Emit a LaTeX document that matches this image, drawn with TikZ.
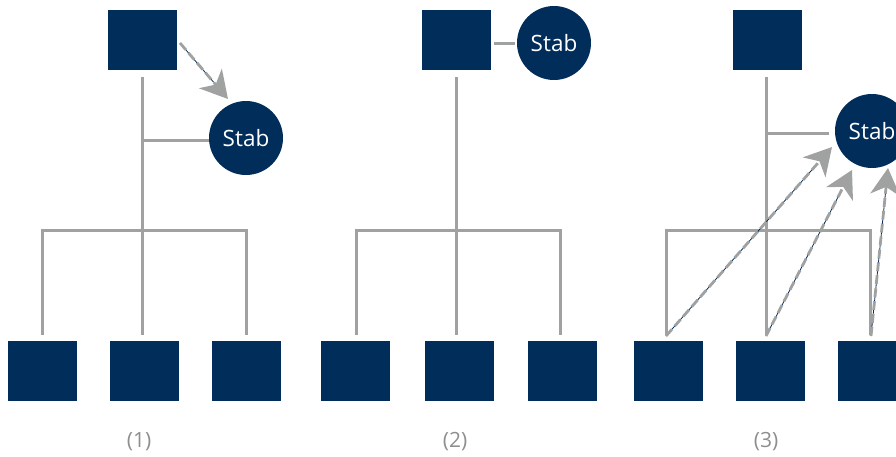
\documentclass[tikz,border=0pt]{standalone}
\usepackage{fontspec}
\setmainfont{Open Sans}
\usetikzlibrary{arrows.meta,calc}
\definecolor{navy}{HTML}{002D5A}
\definecolor{lgray}{HTML}{A0A2A2}
\definecolor{tgray}{HTML}{8E8E8E}
\tikzset{
  sq/.style={fill=navy,draw=none,minimum width=69pt,minimum height=60pt,inner sep=0pt},
  stabc/.style={circle,fill=navy,draw=none,minimum size=74pt,inner sep=0pt,text=white,font=\fontsize{22.5}{22.5}\selectfont},
  tree/.style={draw=lgray,line width=3pt},
  lab/.style={text=tgray,font=\fontsize{21}{21}\selectfont},
  arrbase/.style={draw=navy,line width=0.8pt},
  arrtop/.style={draw=lgray,line width=2.8pt,dash pattern=on 9pt off 4pt,-{Stealth[length=27pt,width=30pt,inset=8pt,fill=lgray]}},
}
\begin{document}
\begin{tikzpicture}[x=1pt,y=-1pt]
\useasboundingbox (0,0) rectangle (896,456);
% ---------- panel 1
\node[sq] (t1) at (142.5,40) {};
\node[sq] (b1a) at (42.5,371) {};
\node[sq] (b1b) at (144.5,371) {};
\node[sq] (b1c) at (246.5,371) {};
\node[stabc] (s1) at (246,138) {Stab};
\coordinate (v1top) at (142,77);
\coordinate (v1bot) at (142,335);
\coordinate (v1br) at (142,140);
\draw[tree] (v1top) -- (v1bot);
\draw[tree] (v1br) -- (s1.west |- v1br);
\draw[tree] (42,335) -- (42,230) -- (246,230) -- (246,335);
\coordinate (a1s) at (180,43);
\coordinate (a1e) at (228,99);
\draw[arrbase] (a1s) -- ($(a1s)!0.7!(a1e)$);
\draw[arrtop] (a1s) -- (a1e);
\node[lab] (l1) at (139,442) {(1)};
% ---------- panel 2
\node[sq] (t2) at (456.5,40) {};
\node[sq] (b2a) at (355.5,371) {};
\node[sq] (b2b) at (459.5,371) {};
\node[sq] (b2c) at (562.5,371) {};
\node[stabc] (s2) at (554,43) {Stab};
\draw[tree] (t2.east |- s2) ++(3,0) coordinate (c2a) -- ($(s2.west)+(-2,0)$);
\coordinate (v2top) at (456,77);
\coordinate (v2bot) at (456,335);
\draw[tree] (v2top) -- (v2bot);
\draw[tree] (356,335) -- (356,230) -- (560,230) -- (560,335);
\node[lab] (l2) at (455,442) {(2)};
% ---------- panel 3
\node[sq] (t3) at (767.5,40) {};
\node[sq] (b3a) at (668.5,371) {};
\node[sq] (b3b) at (770.5,371) {};
\node[sq] (b3c) at (872.5,371) {};
\node[stabc] (s3) at (872,131) {Stab};
\coordinate (v3top) at (766,77);
\coordinate (v3bot) at (766,335);
\coordinate (v3br) at (766,133);
\draw[tree] (v3top) -- (v3bot);
\draw[tree] (v3br) -- ($(s3.west |- v3br)+(-6,0)$);
\draw[tree] (666,335) -- (666,230) -- (870,230) -- (870,335);
\coordinate (a3s) at (666,336);
\coordinate (a3e) at (832,147);
\coordinate (a4s) at (766,336);
\coordinate (a4e) at (852,170);
\coordinate (a5s) at (871,336);
\coordinate (a5e) at (888,168);
\draw[arrbase] (a3s) -- ($(a3s)!0.9!(a3e)$);
\draw[arrbase] (a4s) -- ($(a4s)!0.88!(a4e)$);
\draw[arrbase] (a5s) -- ($(a5s)!0.88!(a5e)$);
\draw[arrtop] (a3s) -- (a3e);
\draw[arrtop] (a4s) -- (a4e);
\draw[arrtop] (a5s) -- (a5e);
\node[lab] (l3) at (766,442) {(3)};
\end{tikzpicture}
\end{document}
